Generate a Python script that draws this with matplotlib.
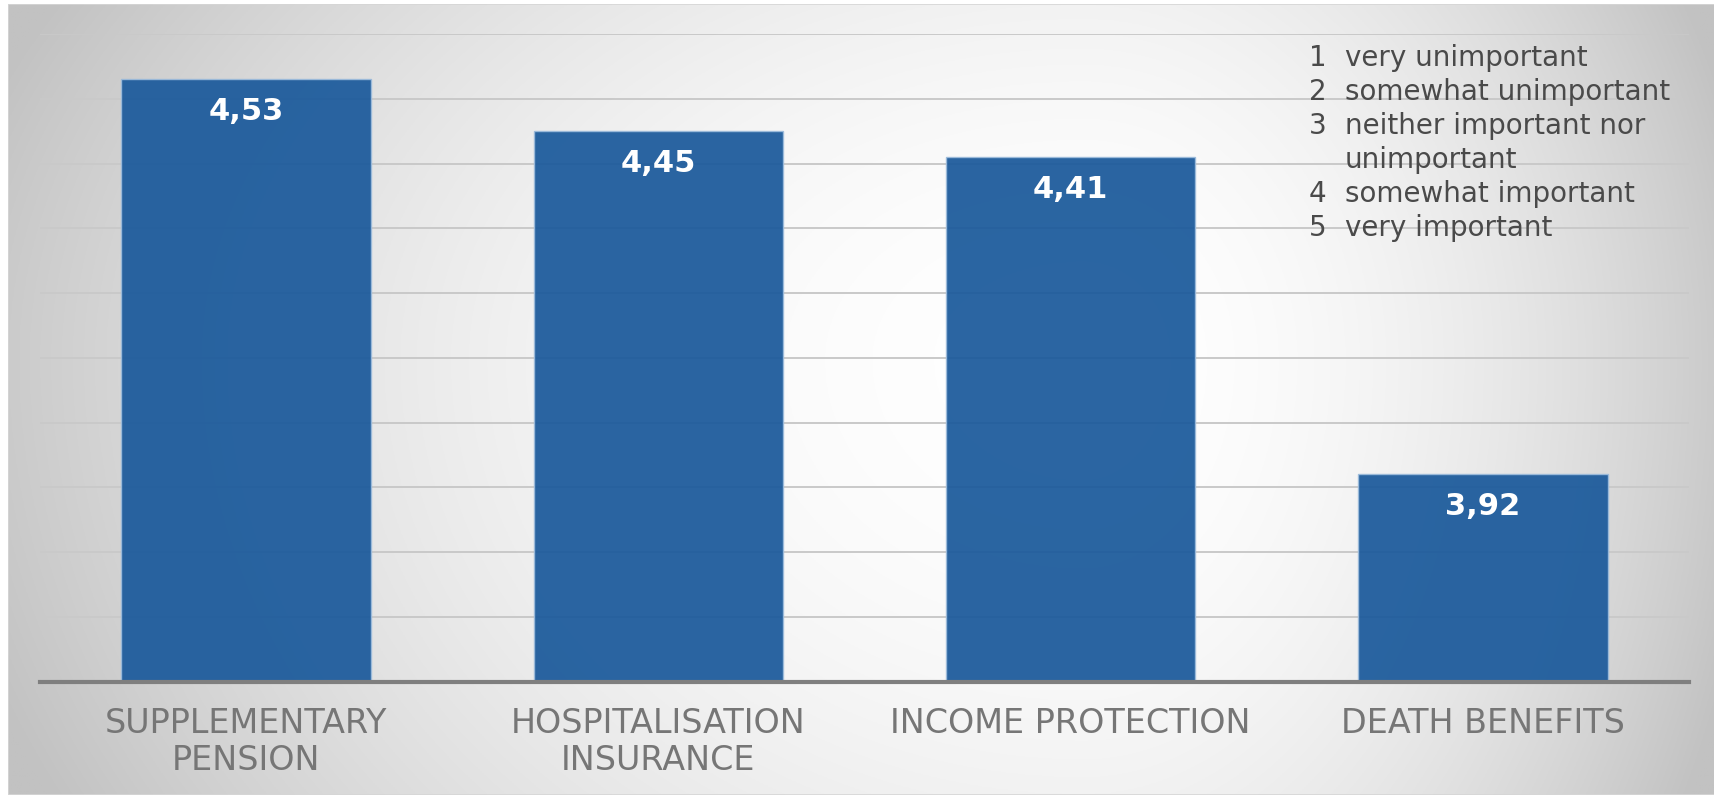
import numpy as np
import matplotlib.pyplot as plt
from matplotlib.patches import Rectangle

categories = ['SUPPLEMENTARY\nPENSION', 'HOSPITALISATION\nINSURANCE',
              'INCOME PROTECTION', 'DEATH BENEFITS']
scores = [4.53, 4.45, 4.41, 3.92]
score_labels = ['4,53', '4,45', '4,41', '3,92']
scale_nums = ['1', '2', '3', '', '4', '5']
scale_text = ['very unimportant', 'somewhat unimportant', 'neither important nor',
              'unimportant', 'somewhat important', 'very important']

W, H = 1715, 795
fig = plt.figure(figsize=(W / 100, H / 100), dpi=100)

# radial grey-to-white background panel
bg = fig.add_axes([8 / W, 0, 1 - 8 / W, 1 - 4 / H], zorder=0)
ny, nx = 400, 860
yy, xx = np.mgrid[0:1:ny * 1j, 0:1:nx * 1j]
cx, cy = 0.63, 0.55
dx = np.where(xx < cx, (xx - cx) / cx, (xx - cx) / (1 - cx))
dy = np.where(yy < cy, (yy - cy) / cy, (yy - cy) / (1 - cy))
d2 = dx ** 2 + (0.5 * dy) ** 2
shade = np.clip(255 - 52 * d2, 194, 255) / 255
bg.imshow(np.dstack([shade] * 3), aspect='auto', extent=[0, 1, 0, 1],
          origin='lower')
bg.add_patch(Rectangle((0, 0), 1, 1, transform=bg.transAxes, fill=False,
                       edgecolor='#d6d6d6', linewidth=1.2))
bg.set_axis_off()

ax = fig.add_axes([40 / W, 1 - 681.5 / H, (1689 - 40) / W, (681.5 - 34) / H], zorder=1)
ax.patch.set_alpha(0)

x = np.arange(len(categories))
ax.bar(x, [s - 3.6 for s in scores], bottom=3.6, width=0.605, color='#1d5b9c',
       alpha=0.94, edgecolor='#9cbbdb', linewidth=1.0, zorder=3)

ax.set_xlim(-0.5, len(categories) - 0.5)
ax.set_ylim(3.6, 4.6)
ax.set_yticks(np.arange(3.7, 4.61, 0.1))
ax.yaxis.grid(True, color='#c9c9c9', linewidth=1.4, zorder=1)
ax.set_axisbelow(True)
for side in ['left', 'right', 'top']:
    ax.spines[side].set_visible(False)
ax.spines['bottom'].set_color('#7f7f7f')
ax.spines['bottom'].set_linewidth(3)
ax.spines['bottom'].set_zorder(4)
ax.tick_params(axis='y', left=False, labelleft=False)
ax.tick_params(axis='x', bottom=False, pad=15)
ax.set_xticks(x)
ax.set_xticklabels(categories, fontsize=24, color='#767676', linespacing=1.15)

for xi, s, lab in zip(x, scores, score_labels):
    ax.annotate(lab, (xi, s), xytext=(0, -32), textcoords='offset pixels',
                ha='center', va='center', fontsize=22, fontweight='bold',
                color='white', zorder=5)

# rating scale key
for i, (n, t) in enumerate(zip(scale_nums, scale_text)):
    ypix = 58 + i * 34
    fig.text(1309 / W, 1 - ypix / H, n, fontsize=20, color='#4a4a4a',
             ha='left', va='center')
    fig.text(1345 / W, 1 - ypix / H, t, fontsize=20, color='#4a4a4a',
             ha='left', va='center')

fig.savefig('out.png', dpi=100)
